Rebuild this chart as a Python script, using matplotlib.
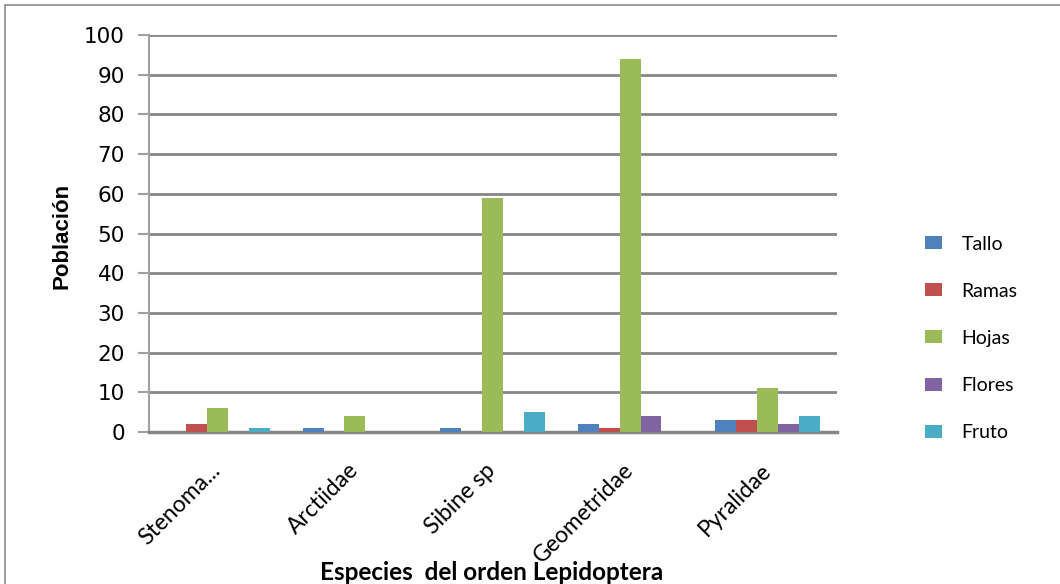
import matplotlib
matplotlib.use("Agg")
import matplotlib.pyplot as plt
import numpy as np
from matplotlib.patches import Rectangle

categories = ["Stenoma...", "Arctiidae", "Sibine sp", "Geometridae", "Pyralidae"]
series_names = ["Tallo", "Ramas", "Hojas", "Flores", "Fruto"]
tallo = [0, 1, 1, 2, 3]
ramas = [2, 0, 0, 1, 3]
hojas = [6, 4, 59, 94, 11]
flores = [0, 0, 0, 4, 2]
fruto = [1, 0, 5, 0, 4]
colors = ["#4F81BD", "#C0504D", "#9BBB59", "#8064A2", "#4BACC6"]
yticks = list(range(0, 101, 10))

W, H = 1060, 584
fig = plt.figure(figsize=(W / 100, H / 100), dpi=100)
ax = fig.add_axes([148.5 / W, 1 - 432 / H, (836.5 - 148.5) / W, (432 - 35) / H])

# outer chart border
fig.patches.append(Rectangle((4.5 / W, -0.1), 1.2, 1.1 - 5.5 / H, transform=fig.transFigure,
                             fill=False, edgecolor="#8c8c8c", linewidth=1.2))

x = np.arange(len(categories))
bw = 0.152
data = [tallo, ramas, hojas, flores, fruto]
for i, (name, vals, c) in enumerate(zip(series_names, data, colors)):
    ax.bar(x + (i - 2) * bw, vals, width=bw, color=c, label=name, zorder=3, linewidth=0)

ax.set_xlim(-0.5, len(categories) - 0.5)
ax.set_ylim(0, 100)
ax.set_yticks(yticks)
ax.set_yticklabels([str(v) for v in yticks], fontsize=15.5, family="DejaVu Sans")
ax.grid(axis="y", color="#868686", linewidth=2, zorder=0)
ax.tick_params(axis="y", length=8, width=1.5, color="#a0a0a0", pad=9)
ax.tick_params(axis="x", length=0, pad=25)

ax.set_xticks(x)
ax.set_xticklabels(categories, rotation=45, ha="right", va="center", rotation_mode="anchor",
                   fontsize=16.5, family="Lato")

for s in ["top", "right"]:
    ax.spines[s].set_visible(False)
ax.spines["left"].set_color("#a0a0a0")
ax.spines["left"].set_linewidth(1.5)
ax.spines["bottom"].set_color("#868686")
ax.spines["bottom"].set_linewidth(2.5)
ax.set_axisbelow(True)

fig.text(62 / W, 1 - 236 / H, "Población", rotation=90, ha="center", va="center",
         fontsize=16, fontweight="bold", family="Liberation Sans")
fig.text(492 / W, 1 - 572 / H, "Especies  del orden Lepidoptera", ha="center", va="center",
         fontsize=17.5, fontweight="bold", family="Lato")

leg = fig.legend(loc="upper left", bbox_to_anchor=(907 / W, 1 - 218 / H), frameon=False,
                 prop={"family": "Lato", "size": 14}, handlelength=0.88, handleheight=0.65,
                 labelspacing=1.55, handletextpad=1.03)

fig.savefig("out.png", dpi=100)
